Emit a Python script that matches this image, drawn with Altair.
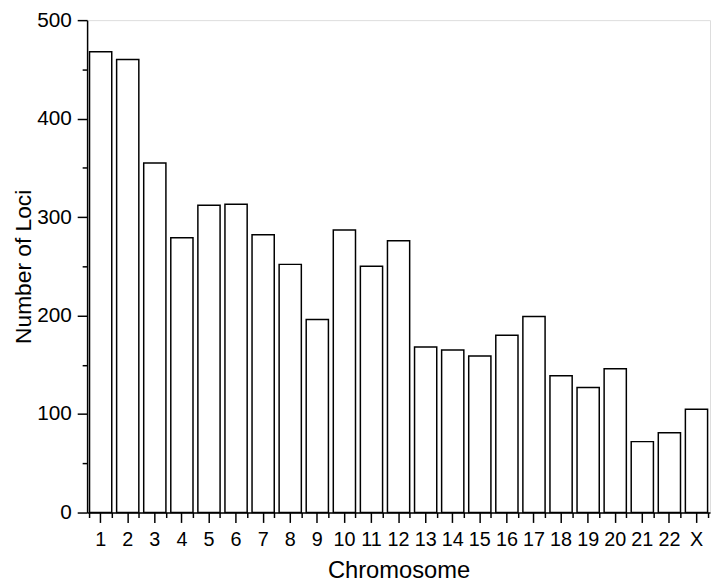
import altair as alt
import pandas as pd

chromosomes = [str(i) for i in range(1, 23)] + ["X"]
loci = [468, 460, 355, 279, 312, 313, 282, 252, 196, 287, 250, 276,
        168, 165, 159, 180, 199, 139, 127, 146, 72, 81, 105]
y_major = [0, 100, 200, 300, 400, 500]
y_minor = [50, 150, 250, 350, 450]

df = pd.DataFrame({"Chromosome": chromosomes, "Loci": loci})

FONT = "Liberation Sans"
xscale = alt.Scale(domain=chromosomes, paddingInner=0.18, paddingOuter=0.09)
yscale = alt.Scale(domain=[0, 500], nice=False)

common = dict(domainColor="black", tickColor="black", domainWidth=1.5, tickWidth=1.5,
              labelColor="black", titleColor="black", labelFont=FONT, titleFont=FONT,
              titleFontWeight="normal", grid=False)

bars = alt.Chart(df).mark_bar(fill="white", stroke="black", strokeWidth=1.5).encode(
    x=alt.X("Chromosome:N", scale=xscale, sort=chromosomes,
            axis=alt.Axis(orient="bottom", title="Chromosome", labelAngle=0, tickSize=10,
                          labelFontSize=20, labelPadding=7, titlePadding=10,
                          titleFontSize=24, **common)),
    y=alt.Y("Loci:Q", scale=yscale,
            axis=alt.Axis(orient="left", values=y_major, title="Number of Loci", tickSize=10,
                          labelFontSize=21, labelPadding=6, titlePadding=1,
                          titleFontSize=23, **common)),
)

minor = alt.Chart(df).mark_bar(opacity=0).encode(
    x=alt.X("Chromosome:N", scale=xscale, sort=chromosomes,
            axis=alt.Axis(orient="bottom", tickBand="extent", labels=False, title=None,
                          domain=False, tickSize=5, tickColor="black", tickWidth=1.5, grid=False)),
    y=alt.Y("Loci:Q", scale=yscale,
            axis=alt.Axis(orient="left", values=y_minor, labels=False, title=None,
                          domain=False, tickSize=5, tickColor="black", tickWidth=1.5, grid=False)),
)

chart = alt.layer(bars, minor).resolve_axis(x="independent", y="independent").properties(
    width=630, height=498,
    autosize=alt.AutoSizeParams(type="none"),
    padding={"left": 80, "top": 9, "right": 2, "bottom": 69},
).configure_view(stroke=None).configure(background="white")

chart.save("out.html", embed_options={"renderer": "svg", "actions": False})
